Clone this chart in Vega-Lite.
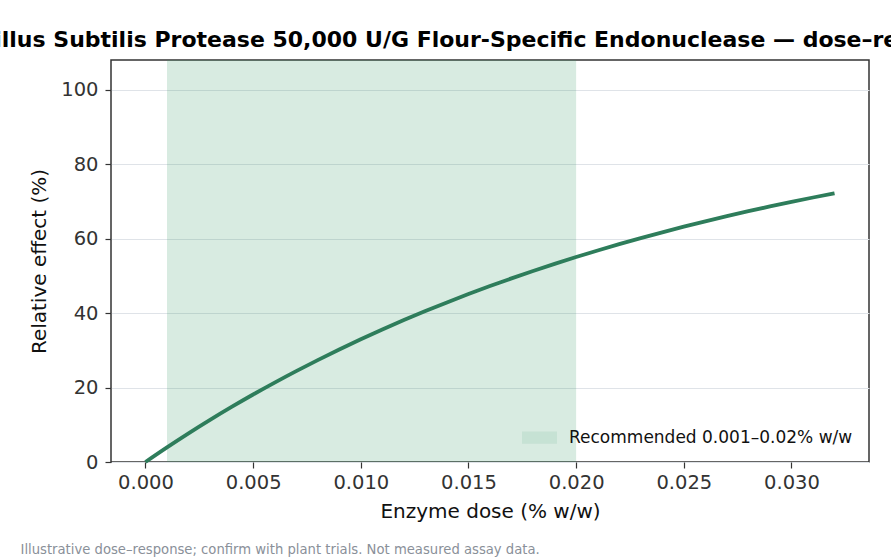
{
  "$schema": "https://vega.github.io/schema/vega-lite/v6.json",
  "autosize": "none",
  "width": 758,
  "height": 402,
  "padding": {"left": 111, "top": 60, "right": 22, "bottom": 96},
  "background": "white",
  "title": {
    "text": "Bacillus Subtilis Protease 50,000 U/G Flour-Specific Endonuclease — dose–response curve",
    "anchor": "middle",
    "frame": "group",
    "font": "DejaVu Sans",
    "fontSize": 22,
    "fontWeight": "bold",
    "color": "#000000",
    "offset": 8,
    "dx": 16
  },
  "config": {
    "font": "DejaVu Sans",
    "view": {"stroke": "#333333", "strokeWidth": 1.5},
    "axis": {
      "labelFont": "DejaVu Sans",
      "titleFont": "DejaVu Sans",
      "labelFontSize": 19.5,
      "labelColor": "#333333",
      "titleFontSize": 20,
      "titleFontWeight": "normal",
      "titleColor": "#111111",
      "tickColor": "#333333",
      "tickSize": 6,
      "tickWidth": 1.2,
      "domain": false,
      "gridColor": "#dfe3e8",
      "gridWidth": 1
    }
  },
  "layer": [
    {
      "data": {"values": [{"start": 0.001, "end": 0.02, "label": "Recommended 0.001–0.02% w/w"}]},
      "mark": {"type": "rect", "opacity": 0.2},
      "encoding": {
        "x": {"field": "start", "type": "quantitative", "scale": {"domain": [-0.0016, 0.0336], "nice": false, "zero": false},
          "axis": {
            "orient": "bottom",
            "domain": false, "ticks": false, "labels": false, "grid": false,
            "title": "Illustrative dose–response; confirm with plant trials. Not measured assay data.",
            "titleAnchor": "start",
            "titleAlign": "left",
            "titleX": -91,
            "titleY": 91,
            "titleBaseline": "alphabetic",
            "titleFontSize": 13.2,
            "titleColor": "#8a9099",
            "titleFontWeight": "normal"
          }
        },
        "x2": {"field": "end"},
        "color": {
          "field": "label", "type": "nominal",
          "scale": {"range": ["#3a9a6a"]},
          "legend": {
            "title": null,
            "orient": "bottom-right",
            "offset": 16,
            "padding": 0,
            "symbolType": "M-1,-0.35H1V0.35H-1Z",
            "symbolSize": 1225,
            "symbolOpacity": 0.11,
            "symbolStrokeWidth": 0,
            "labelFontSize": 17,
            "labelColor": "#111111",
            "labelFont": "DejaVu Sans",
            "labelLimit": 0,
            "labelOffset": 12
          }
        }
      }
    },
    {
      "data": {"values": [
        {"dose": 0.000, "effect": 0.0},
        {"dose": 0.001, "effect": 3.921},
        {"dose": 0.002, "effect": 7.688},
        {"dose": 0.003, "effect": 11.308},
        {"dose": 0.004, "effect": 14.786},
        {"dose": 0.005, "effect": 18.127},
        {"dose": 0.006, "effect": 21.337},
        {"dose": 0.007, "effect": 24.422},
        {"dose": 0.008, "effect": 27.385},
        {"dose": 0.009, "effect": 30.232},
        {"dose": 0.010, "effect": 32.968},
        {"dose": 0.011, "effect": 35.596},
        {"dose": 0.012, "effect": 38.122},
        {"dose": 0.013, "effect": 40.548},
        {"dose": 0.014, "effect": 42.879},
        {"dose": 0.015, "effect": 45.119},
        {"dose": 0.016, "effect": 47.271},
        {"dose": 0.017, "effect": 49.338},
        {"dose": 0.018, "effect": 51.325},
        {"dose": 0.019, "effect": 53.233},
        {"dose": 0.020, "effect": 55.067},
        {"dose": 0.021, "effect": 56.829},
        {"dose": 0.022, "effect": 58.522},
        {"dose": 0.023, "effect": 60.148},
        {"dose": 0.024, "effect": 61.711},
        {"dose": 0.025, "effect": 63.212},
        {"dose": 0.026, "effect": 64.655},
        {"dose": 0.027, "effect": 66.040},
        {"dose": 0.028, "effect": 67.372},
        {"dose": 0.029, "effect": 68.651},
        {"dose": 0.030, "effect": 69.881},
        {"dose": 0.031, "effect": 71.062},
        {"dose": 0.032, "effect": 72.196}
      ]},
      "mark": {"type": "line", "color": "#2e7d5b", "strokeWidth": 3.8, "strokeCap": "butt", "interpolate": "monotone"},
      "encoding": {
        "x": {"field": "dose", "type": "quantitative",
          "axis": {
            "orient": "bottom",
            "title": "Enzyme dose (% w/w)",
            "values": [0, 0.005, 0.01, 0.015, 0.02, 0.025, 0.03],
            "format": ".3f",
            "labelPadding": 5,
            "titlePadding": 10
          }
        },
        "y": {"field": "effect", "type": "quantitative",
          "scale": {"domain": [0, 108], "nice": false, "zero": true},
          "axis": {
            "title": "Relative effect (%)",
            "values": [0, 20, 40, 60, 80, 100],
            "labelPadding": 7,
            "titlePadding": 11
          }
        }
      }
    }
  ],
  "resolve": {"axis": {"x": "independent"}}
}
